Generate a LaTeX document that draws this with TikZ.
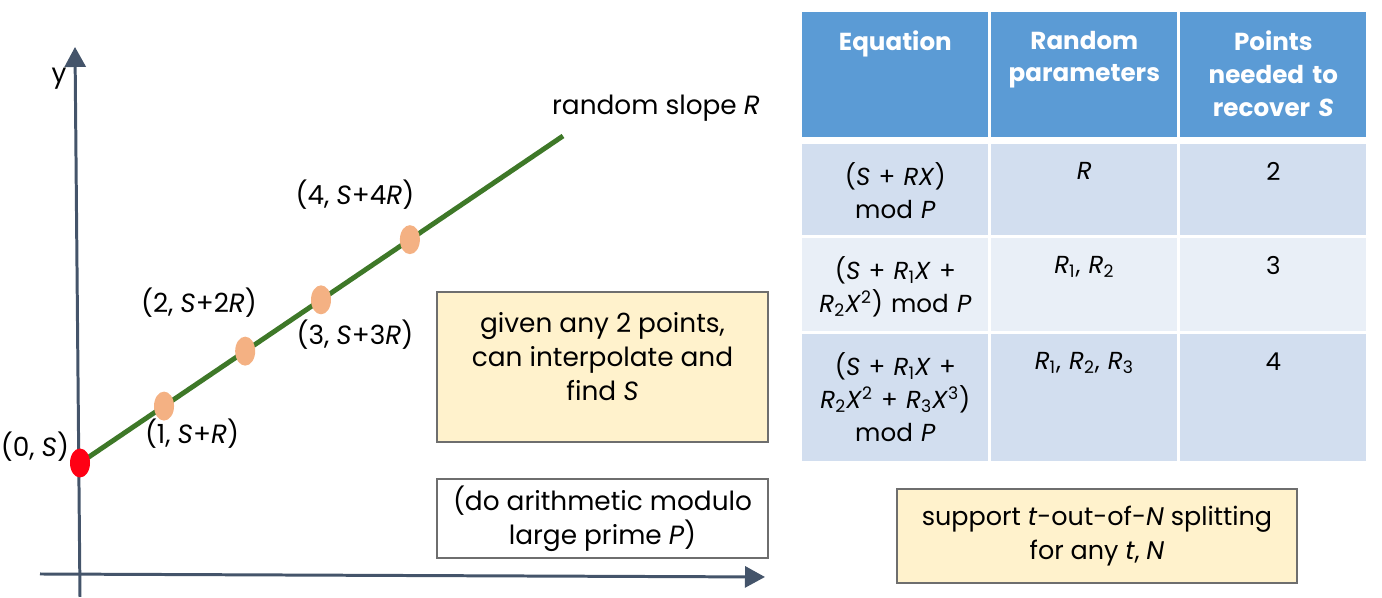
\documentclass[tikz,border=0pt]{standalone}
\usepackage{fontspec}
\setmainfont{Poppins}
\usepackage{tikz}
\usetikzlibrary{arrows.meta,positioning,shapes.geometric,calc}
\definecolor{axisslate}{RGB}{68,84,106}
\definecolor{slopegreen}{RGB}{62,120,40}
\definecolor{shareorange}{RGB}{244,177,131}
\definecolor{secretred}{RGB}{255,0,20}
\definecolor{noteyellow}{RGB}{255,242,204}
\definecolor{noteborder}{RGB}{110,110,110}
\definecolor{headblue}{RGB}{91,155,213}
\definecolor{rowdark}{RGB}{210,222,239}
\definecolor{rowlight}{RGB}{233,239,247}

\begin{document}
\begin{tikzpicture}[
    font=\fontsize{15}{19.5}\selectfont,
    axis/.style={line width=1.7pt, draw=axisslate, -{Triangle[length=0.4cm, width=0.42cm]}},
    dot/.style={ellipse, fill=#1, minimum width=0.4cm, minimum height=0.58cm, inner sep=0pt},
    note/.style={rectangle, draw=noteborder, line width=1.1pt, fill=#1, align=center},
    cell/.style={rectangle, fill=#1, minimum width=3.72cm, anchor=north west, inner sep=0pt},
    celltext/.style={align=center, text width=3.6cm, inner sep=0pt,
                     font=\fontsize{14}{18.7}\selectfont},
    hdtext/.style={celltext, text=white, font=\fontsize{14}{18.7}\selectfont\bfseries},
]
    \useasboundingbox (0,0) rectangle (27.64,11.96);

    % Axes
    \coordinate (xstart) at (0.80,0.48);
    \coordinate (xend) at (15.30,0.42);
    \coordinate (ystart) at (1.60,0.02);
    \coordinate (yend) at (1.50,11.02);
    \draw[axis] (xstart) -- (xend);
    \draw[axis] (ystart) -- (yend);
    \node (ylabel) at (1.18,10.38) {y};

    % Line through the secret
    \coordinate (secret) at (1.60,2.70);
    \coordinate (slopeend) at (11.26,9.24);
    \draw[slopegreen, line width=2.8pt] (secret) -- (slopeend);
    \node (slopelabel) at (13.12,9.80) {random slope \textit{R}};

    % Shares on the line
    \node[dot=secretred] (p0) at (secret) {};
    \foreach \t [count=\i] in {0.174,0.342,0.499,0.683}
        \node[dot=shareorange] (p\i) at ($(secret)!\t!(slopeend)$) {};

    % Point labels
    \node (l0) at (0.70,3.02) {(0, \textit{S})};
    \node (l1) at (3.84,3.28) {(1, \textit{S}+\textit{R})};
    \node (l2) at (3.98,5.90) {(2, \textit{S}+2\textit{R})};
    \node (l3) at (7.10,5.26) {(3, \textit{S}+3\textit{R})};
    \node (l4) at (7.10,8.06) {(4, \textit{S}+4\textit{R})};

    % Notes
    \node[note=noteyellow, minimum width=6.62cm, minimum height=3.0cm] (interp) at (12.05,4.62) {};
    \node[below=0.3cm of interp.north, align=center] (interptext)
        {given any 2 points,\\can interpolate and\\find \textit{S}};
    \node[note=white, minimum width=6.62cm, minimum height=1.58cm] (modulo) at (12.05,1.59)
        {(do arithmetic modulo\\large prime \textit{P})};
    \node[note=noteyellow, minimum width=8.0cm, minimum height=1.88cm,
          font=\fontsize{14.5}{19.5}\selectfont] (support) at (21.94,1.24)
        {support \textit{t}-out-of-\textit{N} splitting\\for any \textit{t}, \textit{N}};

    % Table
    \foreach \col/\x in {1/16.04,2/19.82,3/23.60}
        \foreach \row/\y/\h/\c in {h/11.72/2.50/headblue, a/9.08/1.82/rowdark,
                                  b/7.20/1.86/rowlight, c/5.28/2.54/rowdark}
            \node[cell=\c, minimum height=\h cm] (\row\col) at (\x,\y) {};

    \node[hdtext, below=0.37cm of h1.north] (th1) {Equation};
    \node[hdtext, below=0.37cm of h2.north] (th2) {Random\\parameters};
    \node[hdtext, below=0.37cm of h3.north] (th3) {Points\\needed to\\recover \textit{S}};

    \node[celltext, below=0.37cm of a1.north] (ta1) {(\textit{S} + \textit{RX})\\mod \textit{P}};
    \node[celltext, below=0.37cm of a2.north] (ta2) {\textit{R}};
    \node[celltext, below=0.37cm of a3.north] (ta3) {2};

    \node[celltext, below=0.37cm of b1.north] (tb1)
        {(\textit{S} + \textit{R}\textsubscript{1}\textit{X} +\\\textit{R}\textsubscript{2}\textit{X}\textsuperscript{2}) mod \textit{P}};
    \node[celltext, below=0.37cm of b2.north] (tb2)
        {\textit{R}\textsubscript{1}, \textit{R}\textsubscript{2}};
    \node[celltext, below=0.37cm of b3.north] (tb3) {3};

    \node[celltext, below=0.37cm of c1.north] (tc1)
        {(\textit{S} + \textit{R}\textsubscript{1}\textit{X} +\\\textit{R}\textsubscript{2}\textit{X}\textsuperscript{2} + \textit{R}\textsubscript{3}\textit{X}\textsuperscript{3})\\mod \textit{P}};
    \node[celltext, below=0.37cm of c2.north] (tc2)
        {\textit{R}\textsubscript{1}, \textit{R}\textsubscript{2}, \textit{R}\textsubscript{3}};
    \node[celltext, below=0.37cm of c3.north] (tc3) {4};
\end{tikzpicture}
\end{document}
